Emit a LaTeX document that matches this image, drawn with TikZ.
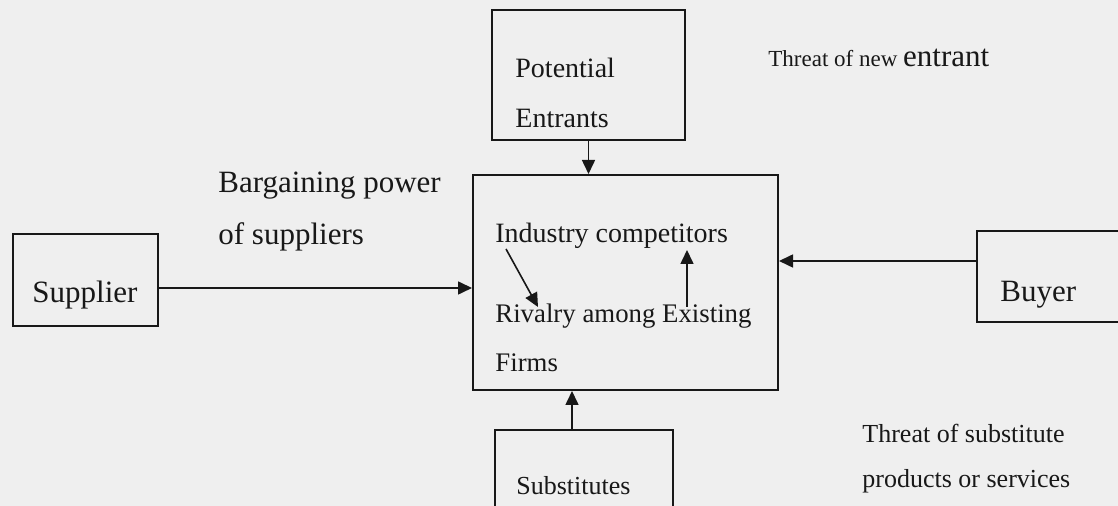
\documentclass[tikz,border=0pt]{standalone}
\usepackage{fontspec}
\setmainfont{Liberation Serif}
\usepackage{tikz}
\usetikzlibrary{arrows.meta,calc}
\definecolor{cPaper}{RGB}{239,239,239}
\definecolor{cInk}  {RGB}{24,24,24}
\tikzset{
  >={Triangle[length=7pt,width=6.5pt]},
  box/.style={draw=cInk,line width=1pt,inner sep=0pt},
  lbl/.style={inner sep=0pt,anchor=base west,text=cInk,
              font=\fontsize{14}{16}\selectfont},
  lblM/.style={lbl,font=\fontsize{13.4}{16}\selectfont},  % rivalry lines
  lblL/.style={lbl,font=\fontsize{15.5}{18}\selectfont},  % big labels
  lblS/.style={lbl,font=\fontsize{13}{15}\selectfont},    % small labels
  flow/.style={->,draw=cInk,line width=0.8pt},
}
\begin{document}
\begin{tikzpicture}[x=0.5pt,y=-0.5pt]
  % ---- page ----
  \useasboundingbox (0,0) rectangle (1118,506);
  \fill[cPaper] (0,0) rectangle (1118,506);
  \clip (0,0) rectangle (1118,506);

  % ---- boxes ----
  \node[box,minimum width=96.5pt,minimum height=65pt]     (entr) at (588.5,75)     {};
  \node[box,minimum width=152.5pt,minimum height=107.5pt] (ind)  at (625.5,282.5)  {};
  \node[box,minimum width=89pt,minimum height=52pt]       (subs) at (584,482)      {};
  \node[box,minimum width=72.5pt,minimum height=46pt]     (supp) at (85.5,280)     {};
  \node[box,minimum width=91.5pt,minimum height=45.5pt]   (buy)  at (1068.5,276.5) {};

  % ---- texts inside the boxes ----
  \node[lbl]  (entr1) at (515,78)   {Potential};
  \node[lbl]  (entr2) at (515,128)  {Entrants};
  \node[lbl]  (ind1)  at (495,243)  {Industry competitors};
  \node[lblM] (ind2)  at (495,323)  {Rivalry among Existing};
  \node[lblM] (ind3)  at (495,372)  {Firms};
  \node[lblS] (subs1) at (516,495)  {Substitutes};
  \node[lblL] (supp1) at (32,303)   {Supplier};
  \node[lblL] (buy1)  at (1000,302) {Buyer};

  % ---- force labels ----
  \node[lblL] (barg1) at (218,193) {Bargaining power};
  \node[lblL] (barg2) at (218,245) {of suppliers};
  \node[lbl,font=\fontsize{11.5}{14}\selectfont] (thrN) at (768,67)
       {Threat of new {\fontsize{15.5}{18}\selectfont entrant}};
  \node[lblS] (thrS1) at (862,443) {Threat of substitute};
  \node[lblS] (thrS2) at (862,488) {products or services};

  % ---- arrows into the industry box ----
  \draw[flow] (entr.south) -- (entr.south |- ind.north);
  \draw[flow] ([xshift=-6pt]subs.north) -- ([xshift=-6pt]subs.north |- ind.south);
  \draw[flow] ([yshift=-4pt]supp.east) -- ([yshift=-4pt]supp.east -| ind.west);
  \draw[flow] ([yshift=7.75pt]buy.west) -- ([yshift=7.75pt]buy.west -| ind.east);

  % ---- arrows between the inner texts ----
  \coordinate (d1) at (506,249);
  \coordinate (d2) at (538,307);
  \coordinate (u1) at (687,307);
  \coordinate (u2) at (687,250);
  \draw[flow] (d1) -- (d2);
  \draw[flow] (u1) -- (u2);
\end{tikzpicture}
\end{document}
